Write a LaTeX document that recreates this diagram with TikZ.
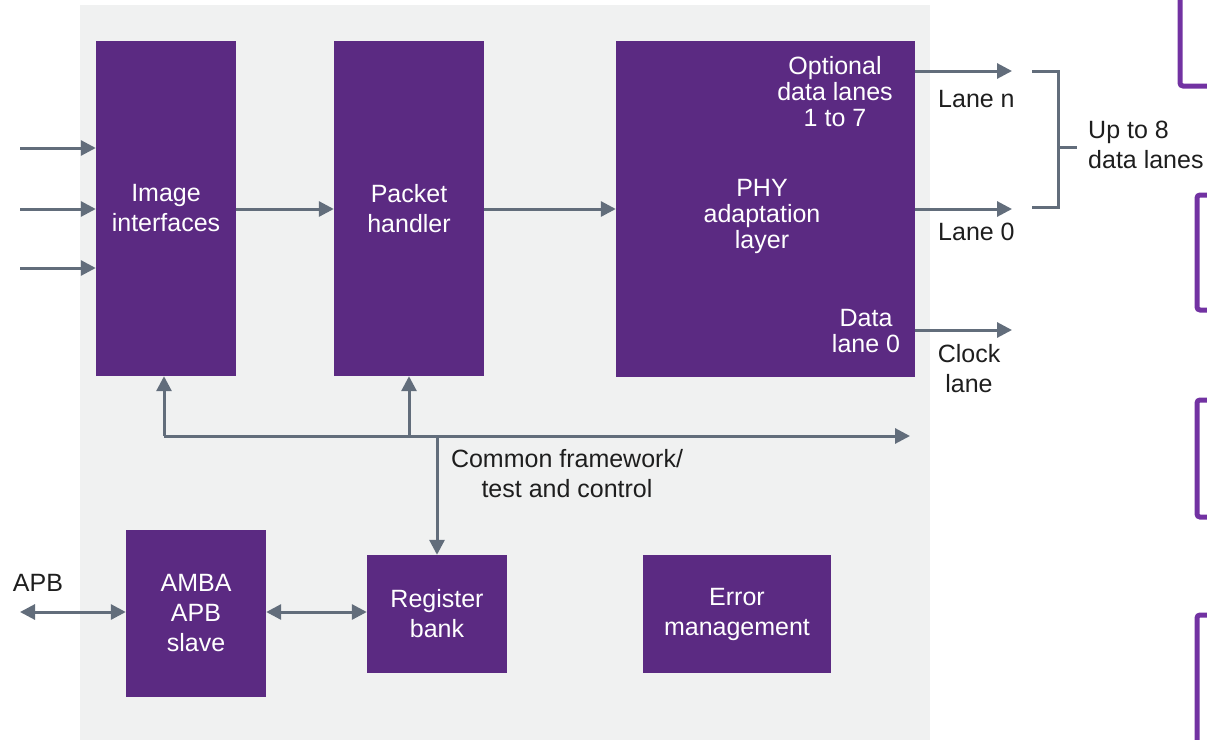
\documentclass[tikz,border=0pt]{standalone}
\usepackage{fontspec}
\setmainfont{Liberation Sans}
\usetikzlibrary{arrows.meta}
\definecolor{panel}{HTML}{F0F1F1}
\definecolor{boxpurple}{HTML}{5B2A82}
\definecolor{edgepurple}{HTML}{7232A2}
\definecolor{arrgray}{HTML}{626D7B}
\definecolor{txt}{HTML}{1E1E1E}
\tikzset{
  blockbox/.style={fill=boxpurple, draw=none, text=white, align=center, inner sep=0pt,
    font=\fontsize{25}{30}\selectfont},
  inlabel/.style={text=white, align=center, inner sep=0pt, font=\fontsize{25}{26}\selectfont},
  outlabel/.style={text=txt, inner sep=0pt, font=\fontsize{25}{30}\selectfont},
  conn/.style={draw=arrgray, line width=3pt, -{Triangle[length=15pt,width=15pt]}},
  dconn/.style={draw=arrgray, line width=3pt, {Triangle[length=15pt,width=15pt]}-{Triangle[length=15pt,width=15pt]}},
  plain/.style={draw=arrgray, line width=3pt},
  sidebox/.style={draw=edgepurple, line width=5pt, rounded corners=3pt},
}
\begin{document}
\begin{tikzpicture}[x=1pt, y=-1pt]
\useasboundingbox (0,0) rectangle (1207,739);
\clip (0,0) rectangle (1207,739);
% background panel
\fill[panel] (80,5) rectangle (930,745);

% partial boxes on the right edge
\draw[sidebox] (1180,-20) -- (1180,86) -- (1240,86);
\draw[sidebox] (1240,195) -- (1197,195) -- (1197,310) -- (1240,310);
\draw[sidebox] (1240,400) -- (1197,400) -- (1197,517) -- (1240,517);
\draw[sidebox] (1240,615) -- (1197,615) -- (1197,760);

% blocks
\node[blockbox, minimum width=140pt, minimum height=335pt] (img) at (166,208.5) {Image\\interfaces};
\node[blockbox, minimum width=150pt, minimum height=335pt] (pkt) at (409,208.5) {Packet\\handler};
\node[blockbox, minimum width=299pt, minimum height=336pt] (phy) at (765.5,209) {};
\node[inlabel] (phytxt) at (762,216) {PHY\\adaptation\\layer};
\node[inlabel] (opttxt) at (835,92) {Optional\\data lanes\\1 to 7};
\node[inlabel] (dl0txt) at (866,331) {Data\\lane 0};
\node[blockbox, minimum width=140pt, minimum height=167pt] (amba) at (196,613.5) {AMBA\\APB\\slave};
\node[blockbox, minimum width=140pt, minimum height=118pt] (reg) at (437,614) {Register\\bank};
\node[blockbox, minimum width=188pt, minimum height=118pt] (err) at (737,614) {Error\\management};

% inputs
\coordinate (in1) at (20,148);
\coordinate (in2) at (20,209);
\coordinate (in3) at (20,268);
\draw[conn] (in1) -- (in1 -| img.west);
\draw[conn] (in2) -- (in2 -| img.west);
\draw[conn] (in3) -- (in3 -| img.west);

% main flow
\draw[conn] (img.east |- in2) -- (pkt.west |- in2);
\draw[conn] (pkt.east |- in2) -- (phy.west |- in2);

% outputs
\coordinate (lanen) at (1012,71);
\coordinate (lane0) at (1012,209);
\coordinate (clk) at (1012,330);
\draw[conn] (phy.east |- lanen) -- (lanen);
\draw[conn] (phy.east |- lane0) -- (lane0);
\draw[conn] (phy.east |- clk) -- (clk);
\node[outlabel, anchor=west] (lnlbl) at (938,99) {Lane n};
\node[outlabel, anchor=west] (l0lbl) at (938,232) {Lane 0};
\node[outlabel, align=center] (clklbl) at (969,369) {Clock\\lane};

% bracket
\coordinate (bt) at (1058,71);
\coordinate (bb) at (1058,207);
\coordinate (bm) at (1058,147);
\coordinate (bmr) at (1077,147);
\draw[plain] (1032,71) -- (bt) -- (bb) -- (1032,207);
\draw[plain] (bm) -- (bmr);
\node[outlabel, align=left, anchor=west] (uplbl) at (1088,145) {Up to 8\\data lanes};

% common framework bus
\coordinate (busL) at (164,436);
\coordinate (busR) at (910,436);
\draw[conn] (busL) -- (busR);
\draw[conn] (busL) -- (busL |- img.south);
\draw[conn] (pkt.south |- busL) -- (pkt.south);
\draw[conn] (reg.north |- busL) -- (reg.north);
\node[outlabel, align=center] (cflbl) at (567,474) {Common framework/\\test and control};

% APB
\coordinate (apb) at (20,612);
\draw[dconn] (apb) -- (apb -| amba.west);
\node[outlabel] (apblbl) at (38,583) {APB};
\draw[dconn] (amba.east |- apb) -- (reg.west |- apb);
\end{tikzpicture}
\end{document}
